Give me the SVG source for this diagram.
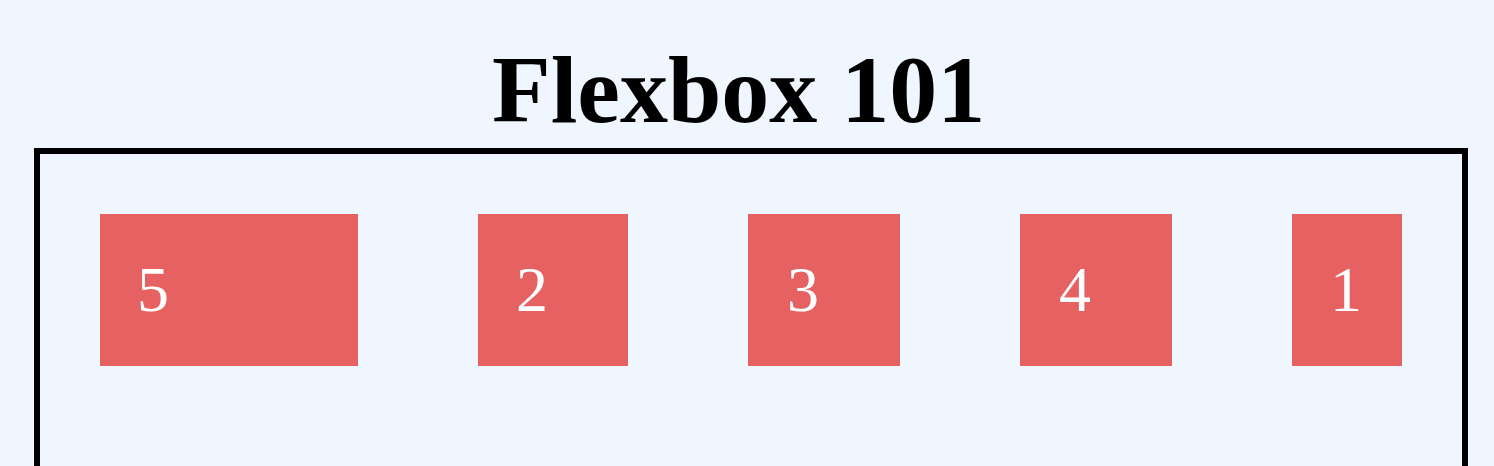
<svg xmlns="http://www.w3.org/2000/svg" width="1494" height="466" viewBox="0 0 1494 466">
  <style>
    .title { font-family: "Liberation Serif", "Times New Roman", serif; font-weight: bold; font-size: 96px; fill: #000; }
    .box { fill: #e66161; }
    .num { font-family: "Liberation Serif", "Times New Roman", serif; font-size: 64px; fill: #fff; }
  </style>
  <rect x="0" y="0" width="1494" height="466" fill="#eff6ff"/>
  <g id="title">
    <text class="title" x="492" y="122">Flexbox 101</text>
  </g>
  <g id="container">
    <rect x="37" y="151" width="1428" height="400" fill="none" stroke="#000" stroke-width="6"/>
  </g>
  <g id="item5">
    <rect class="box" x="100" y="214" width="258" height="152"/>
    <text class="num" x="137" y="311">5</text>
  </g>
  <g id="item2">
    <rect class="box" x="478" y="214" width="150" height="152"/>
    <text class="num" x="516" y="311">2</text>
  </g>
  <g id="item3">
    <rect class="box" x="748" y="214" width="152" height="152"/>
    <text class="num" x="787" y="311">3</text>
  </g>
  <g id="item4">
    <rect class="box" x="1020" y="214" width="152" height="152"/>
    <text class="num" x="1059" y="311">4</text>
  </g>
  <g id="item1">
    <rect class="box" x="1292" y="214" width="110" height="152"/>
    <text class="num" x="1330" y="311">1</text>
  </g>
  <g id="connectors"/>
</svg>
